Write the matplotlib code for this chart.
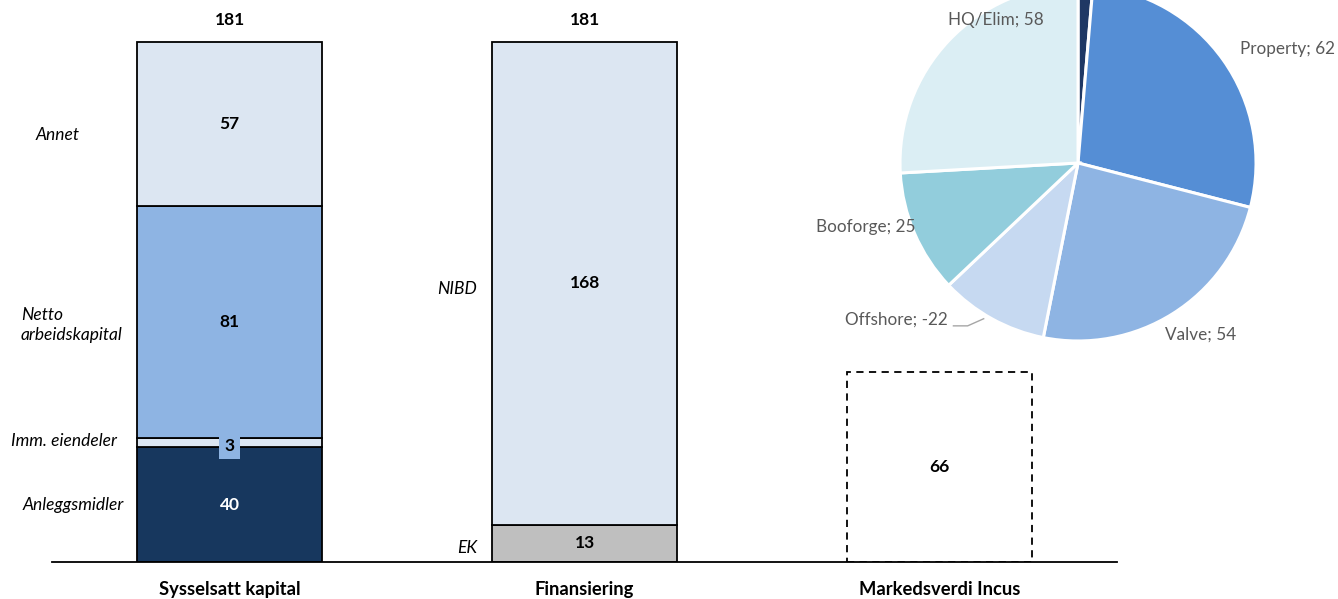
import matplotlib.pyplot as plt

plt.rcParams['font.family'] = ['Lato', 'DejaVu Sans']

categories = ['Sysselsatt kapital', 'Finansiering', 'Markedsverdi Incus']

# Sysselsatt kapital (bottom to top)
kap_names = ['Anleggsmidler', 'Imm. eiendeler', 'Netto\narbeidskapital', 'Annet']
kap_values = [40, 3, 81, 57]
kap_colors = ['#17375E', '#DCE6F2', '#8EB4E3', '#DCE6F2']

# Finansiering (bottom to top)
fin_names = ['EK', 'NIBD']
fin_values = [13, 168]
fin_colors = ['#BFBFBF', '#DCE6F2']

markedsverdi = 66

pie_names = ['', 'Property', 'Valve', 'Offshore', 'Booforge', 'HQ/Elim']
pie_values = [3, 62, 54, -22, 25, 58]
pie_colors = ['#1F3864', '#558ED5', '#8EB4E3', '#C6D9F1', '#92CDDC', '#DBEEF4']

fig = plt.figure(figsize=(13.38, 5.99), dpi=100)
ax = fig.add_axes([0.0389, 0.0618, 0.796, 0.9115])
W = 0.523
FS = 12.5

def stack(x, values, colors):
    bottom = 0
    bars = []
    for v, c in zip(values, colors):
        b = ax.bar(x, v, W, bottom=bottom, color=c, edgecolor='black', linewidth=1.3, zorder=2)
        bars.append((b, bottom, v))
        bottom += v
    return bars, bottom

bars1, tot1 = stack(0, kap_values, kap_colors)
bars2, tot2 = stack(1, fin_values, fin_colors)
ax.bar(2, markedsverdi, W, color='white', edgecolor='black', linewidth=1.3, linestyle=(0, (4, 3)), zorder=2)

# value labels
for i, (b, bot, v) in enumerate(bars1):
    col = 'white' if i == 0 else 'black'
    kw = {}
    if i == 1:
        kw['bbox'] = dict(boxstyle='square,pad=0.3', facecolor='#8EB4E3', edgecolor='none')
    ax.text(0, bot + v / 2 - (1.0 if i == 1 else 0), str(v), ha='center', va='center', fontsize=FS,
            fontweight='bold', color=col, zorder=3, **kw)
for b, bot, v in bars2:
    ax.text(1, bot + v / 2, str(v), ha='center', va='center', fontsize=FS, fontweight='bold', zorder=3)
ax.text(2, markedsverdi / 2, str(markedsverdi), ha='center', va='center', fontsize=FS, fontweight='bold')

for x, t in [(0, tot1), (1, tot2)]:
    ax.annotate(str(t), (x, t), xytext=(0, 16), textcoords='offset points', ha='center', va='center',
                fontsize=FS, fontweight='bold')

# italic side labels
kap_label_x = [-0.582, -0.616, -0.588, -0.546]
kap_label_dy = [0, 0.5, -1.0, -4.0]
mids = [b[1] + b[2] / 2 for b in bars1]
for name, xx, y, dy in zip(kap_names, kap_label_x, mids, kap_label_dy):
    ax.text(xx, y + dy, name, ha='left', va='center', style='italic', fontsize=FS, linespacing=1.3)
for name, (b, bot, v) in zip(fin_names, bars2):
    ax.text(0.698, bot + v / 2 - (1.5 if name == 'EK' else 2), name, ha='right', va='center', style='italic',
            fontsize=FS)

ax.set_xlim(-0.5, 2.5)
ax.set_ylim(0, 190)
for s in ['left', 'right', 'top']:
    ax.spines[s].set_visible(False)
ax.spines['bottom'].set_linewidth(1.3)
ax.set_yticks([])
ax.set_xticks(range(len(categories)))
ax.set_xticklabels(categories, fontweight='bold', fontsize=13.2)
ax.tick_params(axis='x', length=0, pad=14)

# pie
pax = fig.add_axes([0.6562, 0.394, 0.299, 0.6678])
pax.pie([abs(v) for v in pie_values], colors=pie_colors, startangle=90, counterclock=False,
        wedgeprops=dict(edgecolor='white', linewidth=2.2))
pax.set_xlim(-1.1236, 1.1236)
pax.set_ylim(-1.1236, 1.1236)
pax.set_aspect('equal')
pax.axis('off')

label_pos = [None, (1.174, 0.640), (0.691, -0.966), (-1.02, -0.882), (-1.191, -0.36), (-0.461, 0.803)]
for name, v, pos in zip(pie_names, pie_values, label_pos):
    if pos is None:
        continue
    pax.text(pos[0], pos[1], f'{name}; {v}', ha='center', va='center', fontsize=12.3, color='#595959')
pax.plot([-0.70, -0.62, -0.53], [-0.915, -0.915, -0.875], color='#A6A6A6', linewidth=1)

fig.savefig('out.png', dpi=100)
